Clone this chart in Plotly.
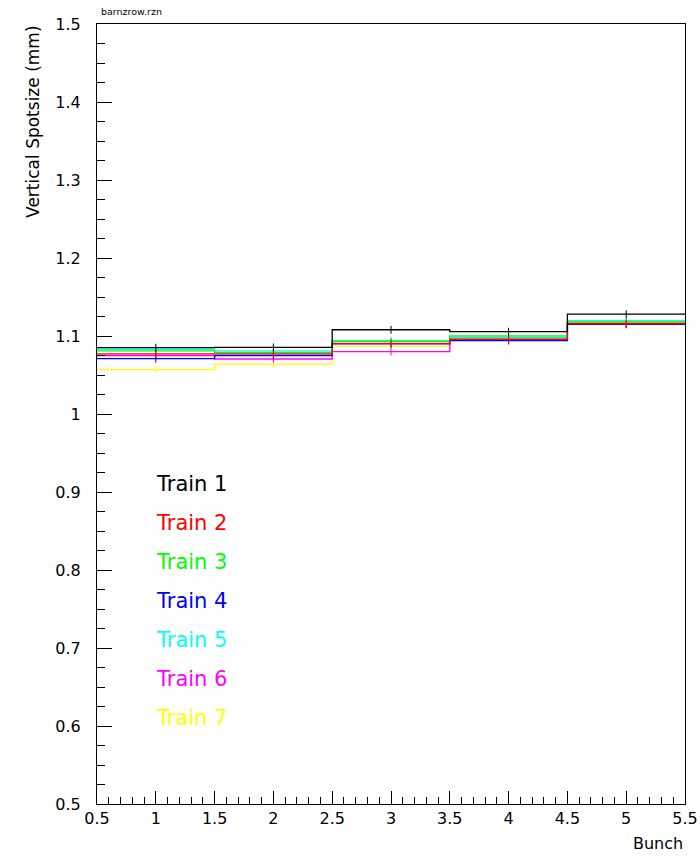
import plotly.graph_objects as go

bunches = [1, 2, 3, 4, 5]
bin_edges = [0.5, 1.5, 2.5, 3.5, 4.5, 5.5]
train_names = ["Train 1", "Train 2", "Train 3", "Train 4", "Train 5", "Train 6", "Train 7"]
train_colors = ["#000000", "#ff0000", "#00ff00", "#0000ff", "#00ffff", "#ff00ff", "#ffff00"]

train1 = [1.085, 1.0855, 1.108, 1.1055, 1.128]
train2 = [1.077, 1.077, 1.0905, 1.096, 1.116]
train3 = [1.081, 1.079, 1.093, 1.100, 1.118]
train4 = [1.071, 1.075, 1.090, 1.094, 1.115]
train5 = [1.083, 1.081, 1.094, 1.098, 1.1197]
train6 = [1.075, 1.0705, 1.080, 1.0957, 1.115]
train7 = [1.057, 1.064, 1.087, 1.097, 1.117]
errors = [0.005, 0.005, 0.005, 0.005, 0.005]

legend_y = [0.91, 0.86, 0.81, 0.76, 0.71, 0.66, 0.61]
legend_x = 0.985

series = [train1, train2, train3, train4, train5, train6, train7]

fig = go.Figure()
# draw in reverse so train 1 ends on top
for name, color, vals in reversed(list(zip(train_names, train_colors, series))):
    fig.add_trace(go.Scatter(
        x=bin_edges, y=vals + [vals[-1]], mode="lines",
        line=dict(color=color, width=1.3, shape="hv"),
        showlegend=False, hoverinfo="skip"))
    fig.add_trace(go.Scatter(
        x=bunches, y=vals, mode="markers",
        marker=dict(size=1, color=color),
        error_y=dict(type="data", array=errors, color=color, thickness=1, width=0),
        showlegend=False, name=name))

font_family = "DejaVu Sans"

for name, color, ly in zip(train_names, train_colors, legend_y):
    fig.add_annotation(x=legend_x, y=ly, xref="x", yref="y", text=name,
                       showarrow=False, xanchor="left", yanchor="middle",
                       font=dict(family=font_family, size=21, color=color))

fig.add_annotation(x=-0.109, y=1.0, xref="paper", yref="paper",
                   text="Vertical Spotsize (mm)", textangle=-90, showarrow=False,
                   xanchor="center", yanchor="top",
                   font=dict(family=font_family, size=17, color="#000000"))
fig.add_annotation(x=1.0, y=-0.05, xref="paper", yref="paper",
                   text="Bunch", showarrow=False, xanchor="right", yanchor="middle",
                   font=dict(family=font_family, size=16, color="#000000"))
fig.add_annotation(x=0.003, y=1.0154, xref="paper", yref="paper",
                   text="barnzrow.rzn", showarrow=False, xanchor="left", yanchor="middle",
                   font=dict(family=font_family, size=9.5, color="#000000"))

axis_common = dict(showgrid=False, zeroline=False, showline=True, linecolor="black",
                   linewidth=1, mirror=True, ticks="inside", tickcolor="black",
                   automargin=False,
                   tickfont=dict(family=font_family, size=16, color="#000000"))

fig.update_xaxes(range=[0.5, 5.5], dtick=0.5, tick0=0.5, ticklen=13,
                 minor=dict(ticks="inside", dtick=0.1, ticklen=7, tickcolor="black"),
                 **axis_common)
fig.update_yaxes(range=[0.5, 1.5], dtick=0.1, tick0=0.5, ticklen=15,
                 minor=dict(ticks="inside", dtick=0.025, ticklen=8, tickcolor="black"),
                 ticklabelstandoff=12,
                 **axis_common)

fig.update_layout(width=700, height=856, plot_bgcolor="white", paper_bgcolor="white",
                  margin=dict(l=97, r=15, t=24, b=52, pad=0), showlegend=False)

fig.write_html("out.html", config={"displayModeBar": False},
               post_script="document.body.style.margin='0';document.body.style.overflow='hidden';")
